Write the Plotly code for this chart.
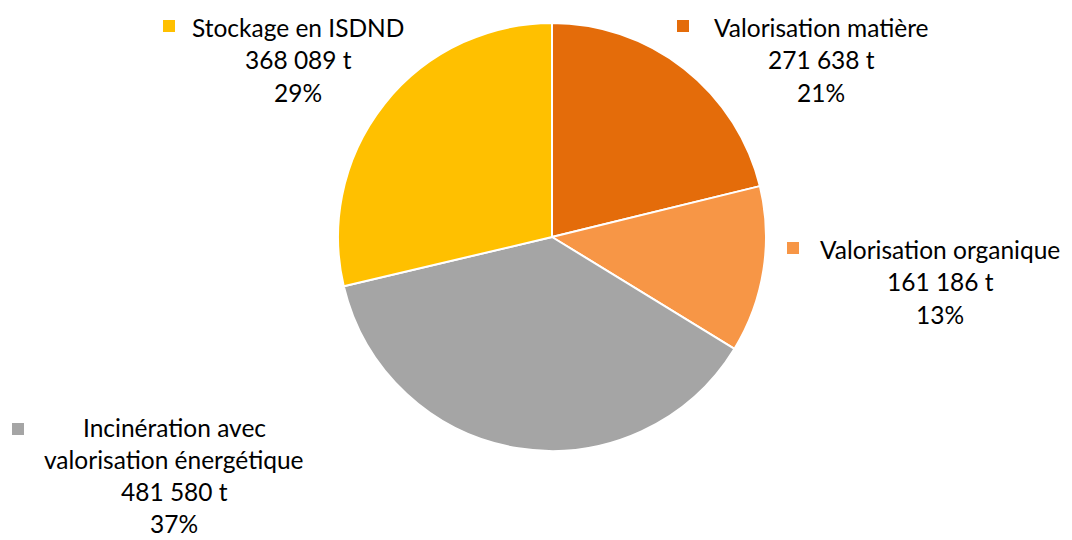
import plotly.graph_objects as go

W, H = 1072, 540

categories = ["Valorisation matière", "Valorisation organique",
              "Incinération avec valorisation énergétique", "Stockage en ISDND"]
tonnages = [271638, 161186, 481580, 368089]
tonnage_labels = ["271 638 t", "161 186 t", "481 580 t", "368 089 t"]
percent_labels = ["21%", "13%", "37%", "29%"]
colors = ["#E46C0A", "#F79646", "#A5A5A5", "#FFC000"]

cx, cy, r = 552, 237, 214

fig = go.Figure(go.Pie(
    labels=categories, values=tonnages, sort=False, direction="clockwise",
    rotation=0, marker=dict(colors=colors, line=dict(color="white", width=2)),
    textinfo="none", hoverinfo="label+value+percent", showlegend=False,
    domain=dict(x=[(cx - r) / W, (cx + r) / W], y=[1 - (cy + r) / H, 1 - (cy - r) / H]),
))

FONT = dict(family="Lato", size=24.5, color="#000000")

# label blocks: (name lines, center x px, first-line y px, line step px, square x px, square y px, index)
blocks = [
    (["Valorisation matière"], 821, 27, 32.5, 677, 20, 0),
    (["Valorisation organique"], 940, 249, 32.5, 787, 242, 1),
    (["Incinération avec", "valorisation énergétique"], 174, 427, 32.3, 12, 423, 2),
    (["Stockage en ISDND"], 298, 27, 32.5, 163, 20, 3),
]
shapes = []
annotations = []
for lines, x, y0, lh, sx, sy, i in blocks:
    all_lines = lines + [tonnage_labels[i], percent_labels[i]]
    for k, t in enumerate(all_lines):
        annotations.append(dict(text=t, x=x / W, y=1 - (y0 + k * lh) / H, xref="paper", yref="paper",
                                xanchor="center", yanchor="middle", showarrow=False, font=FONT,
                                borderpad=0))
    shapes.append(dict(type="rect", xref="paper", yref="paper", x0=sx / W, x1=(sx + 12) / W,
                       y0=1 - (sy + 12) / H, y1=1 - sy / H, fillcolor=colors[i], line=dict(width=0)))

fig.update_layout(width=W, height=H, margin=dict(l=0, r=0, t=0, b=0),
                  paper_bgcolor="white", plot_bgcolor="white",
                  annotations=annotations, shapes=shapes)
fig.write_html("out.html", config={"displayModeBar": False},
               post_script="document.body.style.margin='0';document.body.style.overflow='hidden';")
